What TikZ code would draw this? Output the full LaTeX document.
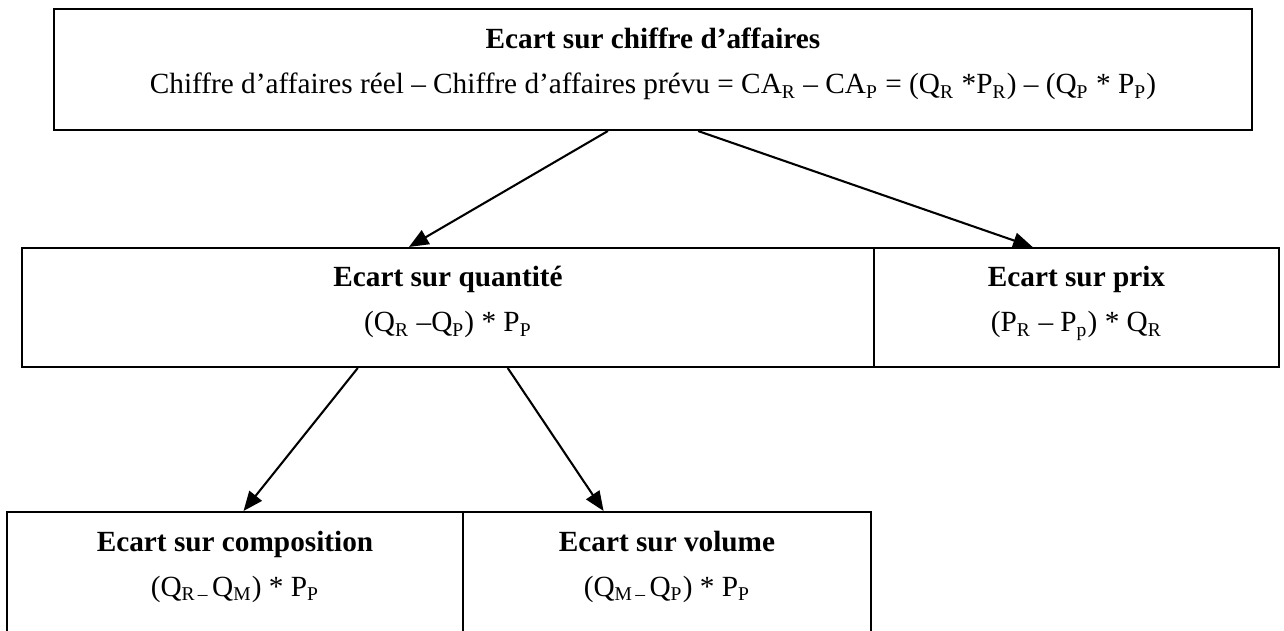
\documentclass[tikz,border=0pt]{standalone}
\usepackage{fontspec}
\setmainfont{Liberation Serif}
\usetikzlibrary{arrows.meta, positioning, calc}
\newcommand{\ind}[1]{\textsubscript{#1}}
\newcommand{\lowstrut}{\rule[-11.5pt]{0pt}{11.5pt}}
\tikzset{
  ecart-box/.style={
    draw=black, line width=0.85pt, rectangle, inner sep=0pt,
    align=center, font=\fontsize{12}{18.5}\selectfont
  },
  ecart-edge/.style={-{Triangle[length=8pt, width=6.5pt]}, line width=0.85pt, draw=black}
}
\begin{document}
\begin{tikzpicture}[x=0.41pt, y=-0.41pt]
  \useasboundingbox (0,0) rectangle (1284,630);
  \clip (0,0) rectangle (1284,630);

  % Niveau 1 : chiffre d'affaires
  \node[ecart-box, minimum width=491.2pt, minimum height=49.6pt] (CA) at (653, 69.5) {
    \strut\textbf{Ecart sur chiffre d’affaires}\\
    Chiffre d’affaires réel – Chiffre d’affaires prévu = CA\ind{R} – CA\ind{P} = (Q\ind{R} *P\ind{R}) – (Q\ind{P} * P\ind{P})\lowstrut
  };

  % Niveau 2 : quantité et prix
  \node[ecart-box, minimum width=349.3pt, minimum height=48.8pt] (Q) at (448, 307.5) {
    \strut\textbf{Ecart sur quantité}\\
    (Q\ind{R} –Q\ind{P}) * P\ind{P}\lowstrut
  };
  \node[ecart-box, minimum width=166.1pt, minimum height=48.8pt] (P) at (1076.5, 307.5) {
    \strut\textbf{Ecart sur prix}\\
    (P\ind{R} – P\ind{p}) * Q\ind{R}\lowstrut
  };

  % Niveau 3 : composition et volume (coupés en bas)
  \node[ecart-box, minimum width=187pt, minimum height=49.2pt] (C) at (235, 572) {
    \strut\textbf{Ecart sur composition}\\
    (Q\ind{R\,–\,}Q\ind{M}) * P\ind{P}\lowstrut
  };
  \node[ecart-box, minimum width=167.3pt, minimum height=49.2pt] (V) at (667, 572) {
    \strut\textbf{Ecart sur volume}\\
    (Q\ind{M\,–\,}Q\ind{P}) * P\ind{P}\lowstrut
  };

  % Flèches
  \draw[ecart-edge] ([xshift=-18.5pt]CA.south) -- ([xshift=-16pt]Q.north);
  \draw[ecart-edge] ([xshift=18.5pt]CA.south) -- ([xshift=-18pt]P.north);
  \draw[ecart-edge] ([xshift=-37pt]Q.south) -- ([xshift=3.5pt]C.north);
  \draw[ecart-edge] ([xshift=24.5pt]Q.south) -- ([xshift=-26pt]V.north);
\end{tikzpicture}
\end{document}
